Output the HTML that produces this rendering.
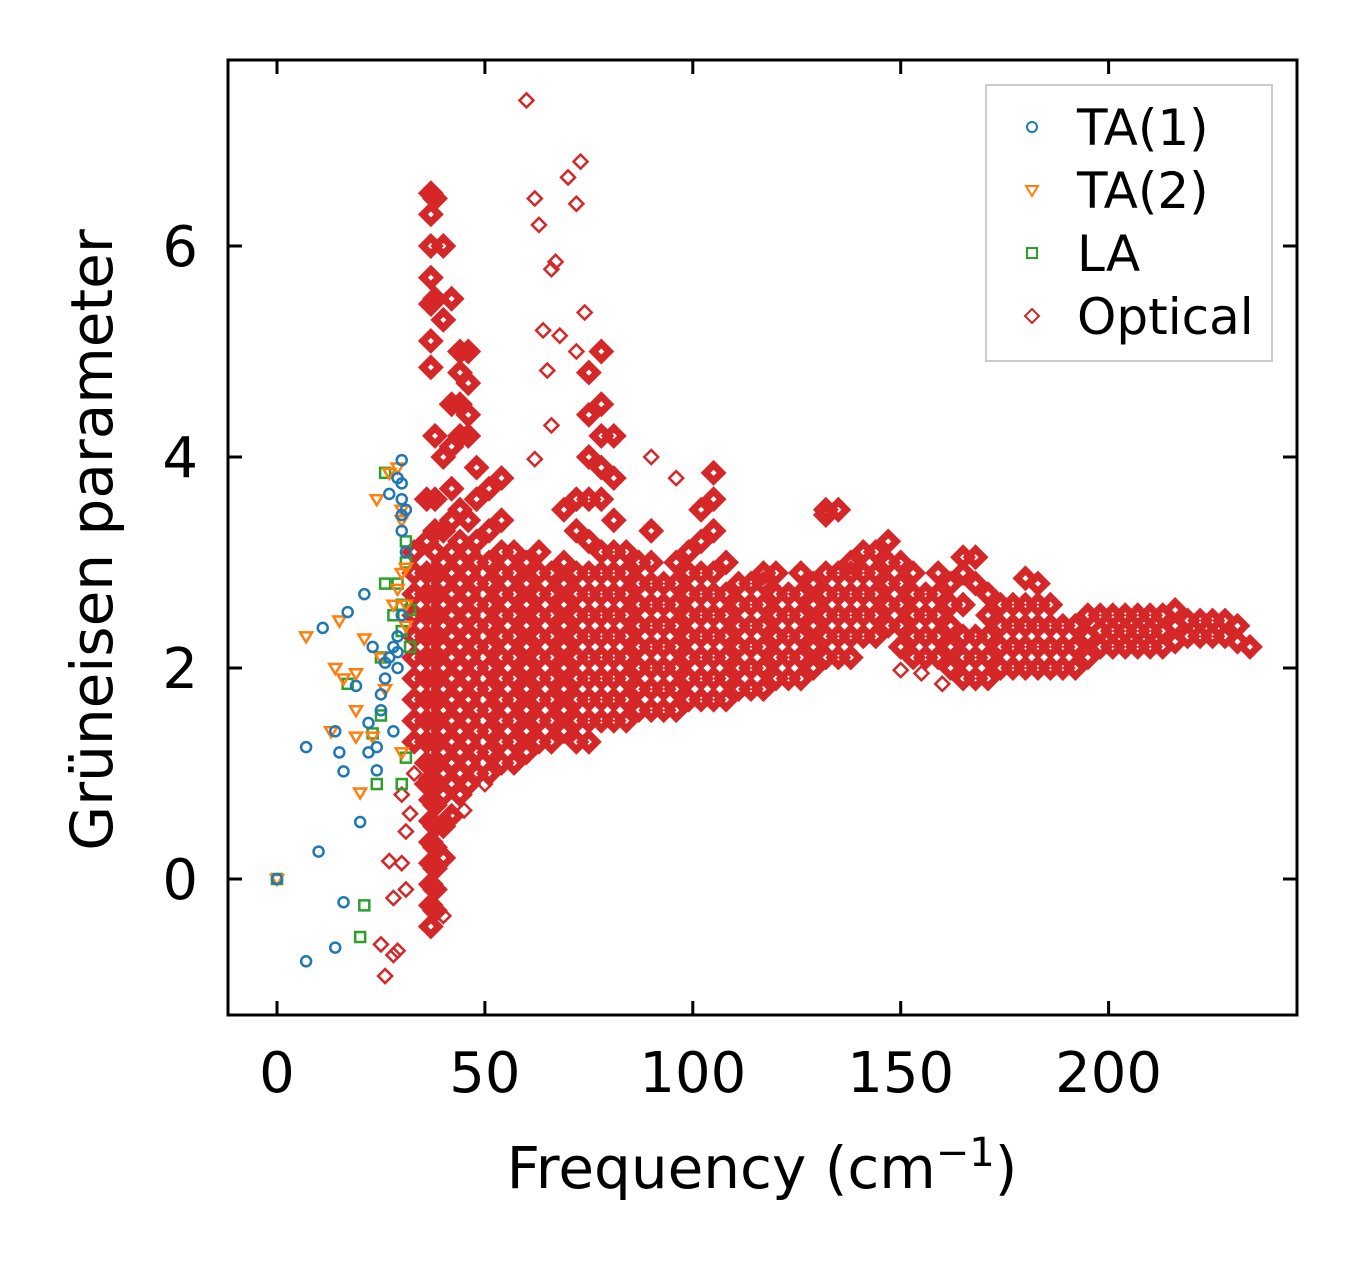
<!DOCTYPE html>
<html><head><meta charset="utf-8"><style>
html,body{margin:0;padding:0;background:#fff;}
svg text{font-family:"DejaVu Sans","Liberation Sans",sans-serif;fill:#000;}
</style></head><body>
<svg id="chart" width="1357" height="1264" xmlns="http://www.w3.org/2000/svg">
<g id="marks"></g>
<rect x="228" y="60" width="1069" height="955" fill="none" stroke="#000" stroke-width="3"/>
<g id="axes"></g>
<text x="762" y="1188" font-size="58" text-anchor="middle">Frequency (cm<tspan font-size="40" dy="-22">−1</tspan><tspan dy="22">)</tspan></text>
<text transform="translate(112,540) rotate(-90)" font-size="58" text-anchor="middle">Grüneisen parameter</text>
<g>
<rect x="986" y="85" width="286" height="276" fill="#fff" fill-opacity="0.8" stroke="#ccc" stroke-width="2"/>
<circle cx="1032" cy="127" r="5" fill="none" stroke="#1f77b4" stroke-width="2"/>
<text x="1077" y="145" font-size="50">TA(1)</text>
<path d="M1026,186 L1038,186 L1032,196 Z" fill="none" stroke="#ff7f0e" stroke-width="2"/>
<text x="1077" y="208" font-size="50">TA(2)</text>
<rect x="1027" y="248" width="10" height="10" fill="none" stroke="#2ca02c" stroke-width="2"/>
<text x="1077" y="271" font-size="50">LA</text>
<path d="M1032,309 L1039,316 L1032,323 L1025,316 Z" fill="none" stroke="#d62728" stroke-width="2"/>
<text x="1077" y="334" font-size="50">Optical</text>
</g>
</svg>
<script>
const xTicks=[0,50,100,150,200];
const yTicks=[0,2,4,6];
const ta1=[[0,0],[7,-0.78],[7,1.25],[10,0.26],[11,2.38],[14,-0.65],[14,1.4],[15,1.2],[16,-0.22],[16,1.02],[17,2.53],[19,1.83],[20,0.54],[21,2.7],[22,1.48],[22,1.2],[23,2.2],[24,1.03],[24,1.25],[25,1.6],[25,1.75],[26,1.9],[26,2.05],[27,2.1],[27,3.65],[28,2.2],[28,1.4],[29,2.3],[29,3.8],[30,3.97],[30,3.6],[30,3.3],[31,3.5],[30,2.5],[31,3.1],[29,2.0],[30,3.75],[30,3.45],[29,2.15]];
const ta2=[[0,0],[7,2.3],[15,2.45],[14,2.0],[13,1.4],[16,1.9],[19,1.95],[19,1.6],[20,0.82],[19,1.35],[21,2.28],[23,1.35],[24,3.6],[25,2.1],[26,1.8],[27,3.85],[28,2.6],[29,3.9],[30,3.5],[30,2.9],[31,2.6],[31,2.4],[30,1.2],[29,2.75],[31,2.95],[30,3.4]];
const la=[[0,0],[17,1.85],[21,-0.25],[20,-0.55],[24,0.9],[23,1.38],[25,1.55],[25,2.1],[26,2.8],[26,3.85],[28,2.5],[29,2.8],[30,0.9],[30,2.6],[31,3.2],[31,1.15],[32,2.2],[32,2.55],[31,3.0],[30,2.35]];
const opticalCols=[
[33,[1.3,1.5,1.7,1.9,2.1,2.3,2.5,2.7,2.9,3.1]],
[36,[0.9,1.1,1.3,1.5,1.7,1.9,2.1,2.3,2.5,2.7,2.9,3.2,3.6]],
[37,[-0.45,-0.25,-0.05,0.15,0.35,0.55,0.75,0.95,4.85,5.1,5.45,5.7,6.0,6.3,6.5]],
[38,[-0.3,-0.1,0.1,0.3,0.5,0.7,0.9,1.1,1.3,1.5,1.7,1.9,2.1,2.3,2.5,2.7,2.9,3.1,3.3,3.6,4.2,5.5,6.45]],
[40,[0.2,0.5,0.8,1.0,1.2,1.4,1.6,1.8,2.0,2.2,2.4,2.6,2.8,3.0,3.3,4.0,5.3,6.0]],
[42,[0.6,0.9,1.1,1.3,1.5,1.7,1.9,2.1,2.3,2.5,2.7,2.9,3.1,3.4,3.7,4.1,4.5,5.5]],
[44,[0.8,1.0,1.2,1.4,1.6,1.8,2.0,2.2,2.4,2.6,2.8,3.0,3.2,3.5,4.2,4.5,4.8,5.0]],
[46,[0.9,1.1,1.3,1.5,1.7,1.9,2.1,2.3,2.5,2.7,2.9,3.1,3.4,4.2,4.4,4.7,5.0]],
[48,[1.0,1.2,1.4,1.6,1.8,2.0,2.2,2.4,2.6,2.8,3.0,3.2,3.6,3.9]],
[51,[1.0,1.2,1.4,1.6,1.8,2.0,2.2,2.4,2.6,2.8,3.0,3.3,3.7]],
[54,[1.1,1.3,1.5,1.7,1.9,2.1,2.3,2.5,2.7,2.9,3.1,3.4,3.8]],
[57,[1.1,1.3,1.5,1.7,1.9,2.1,2.3,2.5,2.7,2.9,3.1]],
[60,[1.2,1.4,1.6,1.8,2.0,2.2,2.4,2.6,2.8,3.0]],
[63,[1.3,1.5,1.7,1.9,2.1,2.3,2.5,2.7,2.9,3.1]],
[66,[1.3,1.5,1.7,1.9,2.1,2.3,2.5,2.7,2.9]],
[69,[1.4,1.6,1.8,2.0,2.2,2.4,2.6,2.8,3.0,3.5]],
[72,[1.3,1.5,1.7,1.9,2.1,2.3,2.5,2.7,2.9,3.3,3.6]],
[75,[1.3,1.5,1.7,1.9,2.1,2.3,2.5,2.7,2.9,3.2,3.6,4.0,4.4,4.8]],
[78,[1.5,1.7,1.9,2.1,2.3,2.5,2.7,2.9,3.1,3.6,3.9,4.2,4.5,5.0]],
[81,[1.5,1.7,1.9,2.1,2.3,2.5,2.7,2.9,3.1,3.4,3.8,4.2]],
[84,[1.5,1.7,1.9,2.1,2.3,2.5,2.7,2.9,3.1]],
[87,[1.6,1.8,2.0,2.2,2.4,2.6,2.8,3.0]],
[90,[1.6,1.8,2.0,2.2,2.4,2.6,2.8,3.0,3.3]],
[93,[1.6,1.8,2.0,2.2,2.4,2.6,2.8]],
[96,[1.6,1.8,2.0,2.2,2.4,2.6,2.8,3.0]],
[99,[1.7,1.9,2.1,2.3,2.5,2.7,2.9,3.1]],
[102,[1.7,1.9,2.1,2.3,2.5,2.7,2.9,3.2,3.5]],
[105,[1.7,1.9,2.1,2.3,2.5,2.7,2.9,3.3,3.6,3.85]],
[108,[1.7,1.9,2.1,2.3,2.5,2.7,3.0]],
[111,[1.8,2.0,2.2,2.4,2.6,2.8]],
[114,[1.8,2.0,2.2,2.4,2.6,2.8]],
[117,[1.8,2.0,2.2,2.4,2.6,2.8,2.9]],
[120,[1.9,2.1,2.3,2.5,2.7,2.9]],
[123,[1.9,2.1,2.3,2.5,2.7]],
[126,[1.9,2.1,2.3,2.5,2.7,2.9]],
[129,[2.0,2.2,2.4,2.6,2.8]],
[132,[2.1,2.3,2.5,2.7,2.9,3.45,3.5]],
[135,[2.1,2.3,2.5,2.7,2.9,3.5]],
[138,[2.1,2.3,2.5,2.7,2.9,3.0]],
[141,[2.3,2.5,2.7,2.9,3.1]],
[144,[2.3,2.5,2.7,2.9,3.1]],
[147,[2.4,2.6,2.8,3.0,3.2]],
[150,[2.2,2.4,2.6,2.8,3.0]],
[153,[2.1,2.3,2.5,2.7,2.9]],
[156,[2.1,2.3,2.5,2.7]],
[159,[2.1,2.3,2.5,2.7,2.9]],
[162,[2.0,2.2,2.4,2.6,2.8]],
[165,[1.9,2.1,2.3,2.6,2.9,3.05]],
[168,[1.9,2.1,2.3,2.8,3.05]],
[171,[1.9,2.1,2.3,2.5,2.7]],
[174,[2.0,2.2,2.4,2.6]],
[177,[2.0,2.2,2.4,2.6]],
[180,[2.0,2.2,2.4,2.6,2.85]],
[183,[2.0,2.2,2.4,2.6,2.8]],
[186,[2.0,2.2,2.4,2.6]],
[189,[2.0,2.2,2.4]],
[192,[2.0,2.2,2.4]],
[195,[2.1,2.3,2.5]],
[198,[2.2,2.35,2.5]],
[201,[2.2,2.35,2.5]],
[204,[2.2,2.35,2.5]],
[207,[2.2,2.35,2.5]],
[210,[2.2,2.35,2.5]],
[213,[2.2,2.35,2.5]],
[216,[2.25,2.4,2.55]],
[219,[2.3,2.45]],
[222,[2.3,2.45]],
[225,[2.3,2.45]],
[228,[2.3,2.45]],
[231,[2.25,2.4]],
[234,[2.2]]];
const opticalOutliers=[[60,7.38],[62,6.45],[63,6.2],[73,6.8],[72,6.4],[70,6.65],[66,5.78],[67,5.85],[74,5.37],[64,5.2],[68,5.15],[65,4.82],[72,5.0],[66,4.3],[62,3.98],[90,4.0],[96,3.8],[150,1.98],[155,1.95],[160,1.85],[26,-0.92],[25,-0.62],[29,-0.68],[28,-0.72],[28,-0.18],[31,-0.1],[27,0.17],[30,0.15],[31,0.45],[32,0.62],[30,0.8],[33,1.0],[40,-0.35],[43,0.6],[45,0.65],[50,0.9]];

const NS='http://www.w3.org/2000/svg';
function xs(v){return 277+v*4.158;}
function ys(v){return 879-v*105.5;}
const marks=document.getElementById('marks');
const axes=document.getElementById('axes');
function mk(tag,attrs,parent){const e=document.createElementNS(NS,tag);for(const k in attrs)e.setAttribute(k,attrs[k]);parent.appendChild(e);return e;}

xTicks.forEach(t=>{const x=xs(t);
 let l=mk('path',{d:`M${x},1015 v-14 M${x},60 v14`,stroke:'#000','stroke-width':3},axes);
 
 
 let tx=mk('text',{x:x,y:1092,'font-size':56,'text-anchor':'middle'},axes);tx.textContent=t;
 
 
});
yTicks.forEach(t=>{const y=ys(t);
 let l=mk('path',{d:`M228,${y} h14 M1297,${y} h-14`,stroke:'#000','stroke-width':3},axes);
 
 
 let tx=mk('text',{x:198,y:y+20,'font-size':56,'text-anchor':'end'},axes);tx.textContent=t;
 
 
});

function diamond(x,y,h,sw){const X=xs(x),Y=ys(y);
 const p=mk('path',{d:`M${X},${Y-h} L${X+h},${Y} L${X},${Y+h} L${X-h},${Y} Z`,fill:'none',stroke:'#d62728','stroke-width':sw},marks);
 
 
}
opticalCols.forEach(c=>c[1].forEach(g=>diamond(c[0],g,8,7)));
opticalOutliers.forEach(p=>diamond(p[0],p[1],7,2.5));
la.forEach(p=>{const X=xs(p[0]),Y=ys(p[1]);
 const r=mk('rect',{x:X-5,y:Y-5,width:10,height:10,fill:'none',stroke:'#2ca02c','stroke-width':2.5},marks);
 
 
});
ta2.forEach(p=>{const X=xs(p[0]),Y=ys(p[1]);
 const r=mk('path',{d:`M${X-6},${Y-4} L${X+6},${Y-4} L${X},${Y+6} Z`,fill:'none',stroke:'#ff7f0e','stroke-width':2.5},marks);
 
 
});
ta1.forEach(p=>{
 const c=mk('circle',{cx:xs(p[0]),cy:ys(p[1]),r:5,fill:'none',stroke:'#1f77b4','stroke-width':2.5},marks);
 
 
});
</script>
</body></html>
